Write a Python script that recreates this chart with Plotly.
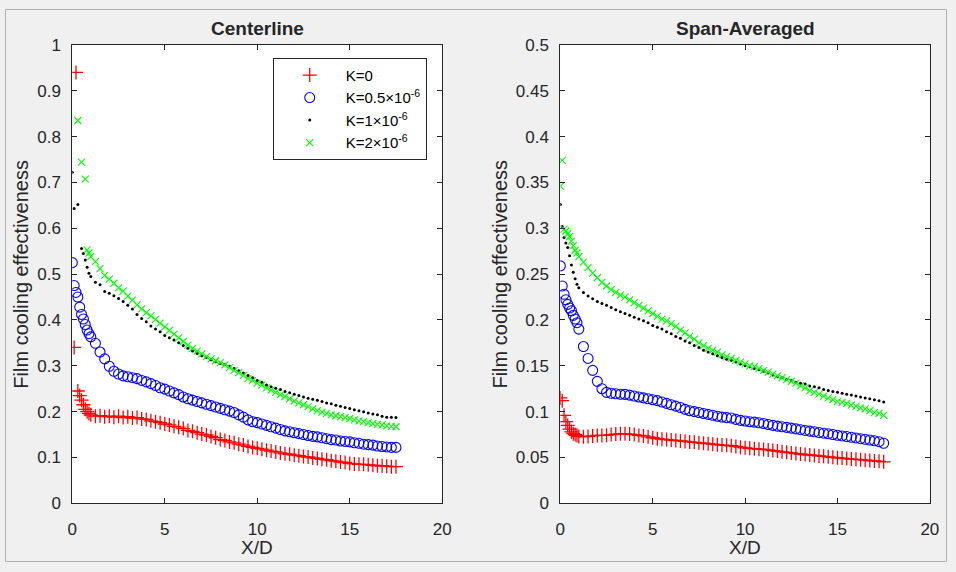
import plotly.graph_objects as go

# ---------------- data ----------------
x_head = [0.0, 0.1, 0.2, 0.3, 0.4, 0.5, 0.6, 0.7, 0.8, 0.9, 1.0]
x_body = [1.25, 1.5, 1.75, 2.0, 2.25, 2.5, 2.75, 3.0, 3.25, 3.5,
          3.75, 4.0, 4.25, 4.5, 4.75, 5.0, 5.25, 5.5, 5.75, 6.0,
          6.25, 6.5, 6.75, 7.0, 7.25, 7.5, 7.75, 8.0, 8.25, 8.5,
          8.75, 9.0, 9.25, 9.5, 9.75, 10.0, 10.25, 10.5, 10.75, 11.0,
          11.25, 11.5, 11.75, 12.0, 12.25, 12.5, 12.75, 13.0, 13.25, 13.5,
          13.75, 14.0, 14.25, 14.5, 14.75, 15.0, 15.25, 15.5, 15.75, 16.0,
          16.25, 16.5, 16.75, 17.0, 17.25, 17.5]
x_vals = x_head + x_body

# Centerline
cl_k0 = [None, 0.34, 0.94, 0.245, 0.235, 0.225, 0.215, 0.205, 0.200, 0.196, 0.193,
         .190, .191, .189, .190, .188, .190, .187, .189, .186, .187,
         .184, .183, .180, .178, .176, .173, .171, .168, .166, .163,
         .159, .157, .154, .151, .149, .146, .143, .139, .137, .134,
         .132, .129, .127, .124, .122, .120, .118, .116, .114, .112,
         .110, .108, .107, .105, .104, .102, .101, .099, .098, .096,
         .095, .093, .092, .090, .089, .087, .086, .085, .085, .084,
         .083, .082, .082, .081, .080, .080]
cl_k05 = [0.525, 0.475, 0.460, 0.450, 0.428, 0.412, 0.402, 0.390, 0.378, 0.370, 0.363,
          .349, .330, .315, .299, .288, .282, .278, .276, .274, .272,
          .268, .265, .261, .257, .252, .249, .245, .241, .237, .232,
          .228, .225, .222, .219, .216, .213, .210, .207, .204, .201,
          .198, .193, .188, .182, .178, .176, .173, .170, .167, .164,
          .161, .158, .156, .154, .152, .150, .148, .146, .145, .143,
          .141, .139, .138, .136, .135, .134, .132, .131, .129, .128,
          .127, .125, .124, .123, .122, .122]
cl_k1 = [0.722, 0.643, None, 0.652, None, 0.556, 0.545, 0.531, 0.515, 0.502, 0.495,
         .482, .477, .462, .458, .453, .447, .440, .432, .424, .412,
         .403, .396, .387, .380, .374, .366, .361, .356, .350, .344,
         .338, .332, .327, .322, .318, .313, .309, .305, .302, .299,
         .294, .289, .284, .279, .274, .268, .264, .258, .254, .251,
         .248, .244, .241, .238, .235, .232, .229, .227, .225, .222,
         .219, .217, .214, .212, .209, .207, .204, .202, .200, .197,
         .195, .193, .190, .188, .188, .187]
cl_k2 = [None, None, None, 0.835, None, 0.744, None, 0.707, 0.553, 0.546, 0.538,
         .527, .512, .497, .489, .480, .470, .463, .452, .443, .433,
         .424, .416, .409, .401, .393, .385, .377, .369, .361, .353,
         .345, .338, .332, .326, .320, .315, .311, .307, .302, .296,
         .290, .285, .279, .272, .268, .262, .258, .252, .247, .242,
         .237, .233, .228, .223, .219, .215, .211, .206, .202, .199,
         .196, .193, .191, .189, .187, .185, .182, .180, .178, .176,
         .174, .172, .171, .169, .168, .167]

# Span-averaged
sa_k0 = [0.115, 0.112, 0.096, 0.089, 0.085, 0.081, 0.078, 0.076, 0.075, 0.074, 0.073,
         .0725, .073, .0735, .074, .074, .0742, .075, .0755, .076, .0758,
         .0755, .075, .074, .0735, .0725, .0715, .0705, .070, .0695, .069,
         .0685, .068, .0675, .067, .0665, .066, .0655, .065, .0645, .064,
         .0635, .0632, .0628, .062, .0612, .0605, .060, .0595, .059, .0588,
         .0582, .0575, .057, .0562, .0556, .055, .0543, .0538, .0532, .0527,
         .0522, .0517, .0512, .0507, .0502, .0497, .0493, .0488, .0483, .048,
         .0476, .0471, .0467, .0462, .0458, .0453]
sa_k05 = [0.259, 0.237, 0.228, 0.222, 0.217, 0.213, 0.210, 0.205, 0.201, 0.197, 0.190,
          .171, .158, .145, .133, .125, .121, .120, .1195, .119, .1188,
          .118, .117, .116, .115, .114, .113, .112, .1105, .109, .1075,
          .106, .1045, .1025, .101, .100, .099, .098, .097, .096, .095,
          .094, .0935, .093, .0915, .0905, .0898, .089, .0885, .0878, .087,
          .086, .085, .0842, .0835, .0828, .082, .0812, .0803, .0795, .0787,
          .078, .0772, .0765, .0758, .075, .0742, .0735, .0728, .072, .0713,
          .0705, .0698, .069, .0682, .0672, .0655]
sa_k1 = [0.326, 0.302, 0.290, 0.284, 0.279, 0.270, 0.260, 0.252, 0.245, 0.239, 0.235,
         .230, .226, .223, .220, .218, .216, .2135, .211, .209, .207,
         .205, .203, .201, .199, .197, .194, .192, .190, .187, .185,
         .182, .180, .177, .175, .172, .170, .167, .165, .163, .161,
         .159, .157, .156, .154, .152, .150, .149, .147, .146, .144,
         .142, .140, .138, .137, .135, .134, .132, .131, .130, .128,
         .127, .126, .124, .123, .122, .121, .120, .119, .118, .117,
         .116, .115, .114, .113, .112, .1105]
sa_k2 = [0.346, 0.374, 0.299, 0.297, 0.294, 0.291, 0.286, 0.281, 0.276, 0.273, 0.269,
         .263, .257, .251, .246, .241, .237, .233, .230, .227, .225,
         .222, .219, .216, .213, .210, .207, .204, .201, .199, .196,
         .193, .189, .186, .182, .179, .175, .172, .169, .167, .165,
         .162, .160, .158, .156, .154, .152, .150, .149, .147, .145,
         .143, .141, .139, .137, .135, .133, .131, .128, .126, .123,
         .121, .119, .117, .115, .113, .111, .110, .109, .107, .106,
         .104, .103, .101, .099, .098, .096]

series_names = ["K=0", "K=0.5×10<sup>-6</sup>", "K=1×10<sup>-6</sup>", "K=2×10<sup>-6</sup>"]
x_ticks = [0, 5, 10, 15, 20]
y_ticks_cl = [0, 0.1, 0.2, 0.3, 0.4, 0.5, 0.6, 0.7, 0.8, 0.9, 1]
y_ticklabels_cl = ["0", "0.1", "0.2", "0.3", "0.4", "0.5", "0.6", "0.7", "0.8", "0.9", "1"]
y_ticks_sa = [0, 0.05, 0.1, 0.15, 0.2, 0.25, 0.3, 0.35, 0.4, 0.45, 0.5]
y_ticklabels_sa = ["0", "0.05", "0.1", "0.15", "0.2", "0.25", "0.3", "0.35", "0.4", "0.45", "0.5"]

# ---------------- styling ----------------
W, H = 956, 572
AX = "#262626"
FONT = "Liberation Sans"
marker_styles = [
    dict(symbol="cross-thin", size=10, color="#ff0000", line=dict(color="#ff0000", width=1.3)),
    dict(symbol="circle-open", size=10, color="#0000ff", line=dict(color="#0000ff", width=1.1)),
    dict(symbol="circle", size=3, color="#000000", line=dict(width=0)),
    dict(symbol="x-thin", size=7, color="#00ff00", line=dict(color="#00ff00", width=1.1)),
]

fig = go.Figure()
for i, (yv, name) in enumerate(zip([cl_k0, cl_k05, cl_k1, cl_k2], series_names)):
    fig.add_trace(go.Scatter(x=x_vals, y=yv, mode="markers", name=name,
                             marker=marker_styles[i], xaxis="x", yaxis="y",
                             showlegend=True, cliponaxis=True))
for i, (yv, name) in enumerate(zip([sa_k0, sa_k05, sa_k1, sa_k2], series_names)):
    fig.add_trace(go.Scatter(x=x_vals, y=yv, mode="markers", name=name,
                             marker=marker_styles[i], xaxis="x2", yaxis="y2",
                             showlegend=False, cliponaxis=True))

def px_x(p):
    return p / W

def px_y(p):
    return 1 - p / H

L1, R1, L2, R2 = 68.3, 443.7, 563.6, 938.6
TOP, BOT = 37.1, 511.3

common_axis = dict(ticks="inside", ticklen=5, tickcolor=AX, tickwidth=1,
                   showline=True, linecolor=AX, linewidth=1, mirror="ticks",
                   showgrid=False, zeroline=False,
                   tickfont=dict(family=FONT, size=17, color=AX))

fig.update_layout(
    width=W, height=H,
    margin=dict(l=0, r=0, t=0, b=0),
    paper_bgcolor="#f0f0f0", plot_bgcolor="#ffffff",
    xaxis=dict(domain=[px_x(L1), px_x(R1)], range=[0, 20], tickvals=x_ticks,
               anchor="y", ticklabelstandoff=10, **common_axis),
    yaxis=dict(domain=[px_y(BOT), px_y(TOP)], range=[0, 1], tickvals=y_ticks_cl,
               ticktext=y_ticklabels_cl, anchor="x", ticklabelstandoff=7, **common_axis),
    xaxis2=dict(domain=[px_x(L2), px_x(R2)], range=[0, 20], tickvals=x_ticks,
                anchor="y2", ticklabelstandoff=10, **common_axis),
    yaxis2=dict(domain=[px_y(BOT), px_y(TOP)], range=[0, 0.5], tickvals=y_ticks_sa,
                ticktext=y_ticklabels_sa, anchor="x2", ticklabelstandoff=7, **common_axis),
    legend=dict(x=px_x(428), xanchor="right", y=px_y(50.5), yanchor="top",
                bgcolor="#ffffff", bordercolor=AX, borderwidth=1,
                font=dict(family=FONT, size=15, color="#000000"),
                tracegroupgap=0, itemsizing="trace", itemwidth=62),
    showlegend=True,
)

annotations = [
    dict(text="<b>Centerline</b>", x=px_x((L1 + R1) / 2), y=px_y(20), size=19),
    dict(text="<b>Span-Averaged</b>", x=px_x((L2 + R2) / 2), y=px_y(20), size=19),
    dict(text="X/D", x=px_x((L1 + R1) / 2), y=px_y(557), size=19),
    dict(text="X/D", x=px_x((L2 + R2) / 2), y=px_y(557), size=19),
    dict(text="Film cooling effectiveness", x=px_x(16), y=px_y(274), textangle=-90, size=20),
    dict(text="Film cooling effectiveness", x=px_x(502), y=px_y(274), textangle=-90, size=20),
]
for a in annotations:
    sz = a.pop("size")
    fig.add_annotation(xref="paper", yref="paper", showarrow=False,
                       xanchor="center", yanchor="middle",
                       font=dict(family=FONT, size=sz, color=AX), **a)

fig.add_shape(type="rect", xref="paper", yref="paper", x0=0.0005, x1=0.9995,
              y0=0.0009, y1=0.9991, line=dict(color="#b0b0b0", width=1))

fig.write_html("out.html")
